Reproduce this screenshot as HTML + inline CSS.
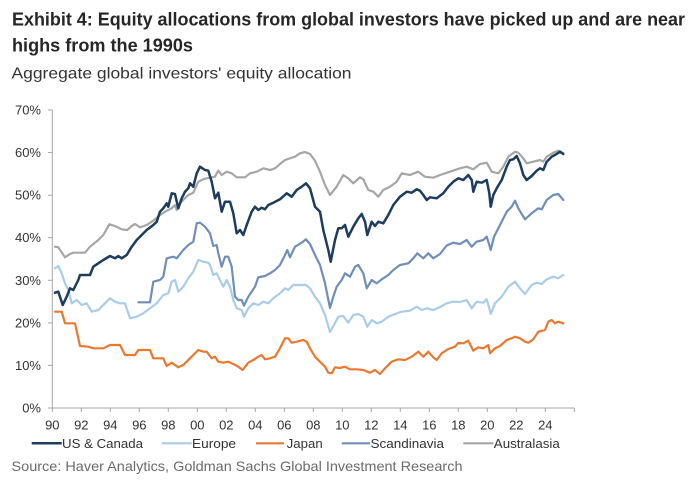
<!DOCTYPE html>
<html><head><meta charset="utf-8"><style>
html,body{margin:0;padding:0;background:#fff;}
svg{display:block;}
text{font-family:"Liberation Sans",Arial,sans-serif;}
</style></head><body>
<svg width="695" height="486" viewBox="0 0 695 486" xmlns="http://www.w3.org/2000/svg">
<rect width="695" height="486" fill="#fff"/>
<text x="12" y="25.7" font-size="18.5" font-weight="bold" fill="#262626" textLength="673" lengthAdjust="spacingAndGlyphs">Exhibit 4: Equity allocations from global investors have picked up and are near</text>
<text x="12" y="51.7" font-size="18.5" font-weight="bold" fill="#262626" textLength="181" lengthAdjust="spacingAndGlyphs">highs from the 1990s</text>
<text x="11.5" y="78.3" font-size="16" fill="#333" textLength="340" lengthAdjust="spacingAndGlyphs">Aggregate global investors' equity allocation</text>

<g stroke="#a6a6a6" stroke-width="1" fill="none">
<line x1="52.3" y1="110" x2="52.3" y2="408"/>
<line x1="52.3" y1="408" x2="574.3" y2="408"/>
<line x1="48" y1="110" x2="52.3" y2="110"/>
<line x1="48" y1="152.6" x2="52.3" y2="152.6"/>
<line x1="48" y1="195.2" x2="52.3" y2="195.2"/>
<line x1="48" y1="237.7" x2="52.3" y2="237.7"/>
<line x1="48" y1="280.3" x2="52.3" y2="280.3"/>
<line x1="48" y1="322.9" x2="52.3" y2="322.9"/>
<line x1="48" y1="365.4" x2="52.3" y2="365.4"/>
<line x1="48" y1="408" x2="52.3" y2="408"/>
<path d="M52.3 408v4M81.3 408v4M110.3 408v4M139.3 408v4M168.3 408v4M197.3 408v4M226.3 408v4M255.3 408v4M284.3 408v4M313.3 408v4M342.3 408v4M371.3 408v4M400.3 408v4M429.3 408v4M458.3 408v4M487.3 408v4M516.3 408v4M545.3 408v4M574.3 408v4"/>
</g>

<g font-size="13" fill="#333" text-anchor="end">
<text x="41" y="114.5">70%</text>
<text x="41" y="157.1">60%</text>
<text x="41" y="199.7">50%</text>
<text x="41" y="242.2">40%</text>
<text x="41" y="284.8">30%</text>
<text x="41" y="327.4">20%</text>
<text x="41" y="369.9">10%</text>
<text x="41" y="412.5">0%</text>
</g>
<g font-size="13" fill="#333" text-anchor="middle">
<text x="52.3" y="429.3">90</text>
<text x="81.3" y="429.3">92</text>
<text x="110.3" y="429.3">94</text>
<text x="139.3" y="429.3">96</text>
<text x="168.3" y="429.3">98</text>
<text x="197.3" y="429.3">00</text>
<text x="226.3" y="429.3">02</text>
<text x="255.3" y="429.3">04</text>
<text x="284.3" y="429.3">06</text>
<text x="313.3" y="429.3">08</text>
<text x="342.3" y="429.3">10</text>
<text x="371.3" y="429.3">12</text>
<text x="400.3" y="429.3">14</text>
<text x="429.3" y="429.3">16</text>
<text x="458.3" y="429.3">18</text>
<text x="487.3" y="429.3">20</text>
<text x="516.3" y="429.3">22</text>
<text x="545.3" y="429.3">24</text>
</g>

<g fill="none" stroke-linejoin="round" stroke-linecap="round">
<polyline stroke="#e8792f" stroke-width="2.2" points="55,311.7 61.7,311.7 65,323.3 75,323.3 80,346 88.3,346.7 93.3,348.3 103.3,348.3 110,345 120,345 125,355 135,355 138.3,350 150,350 153.3,358.3 163.3,358.3 166.7,366 171.7,362.7 178.3,367.3 183.3,365 190,358.3 198.3,350 203.3,351.7 206.7,351.7 211.7,358.3 215,356.7 218.3,361.7 223.3,362.7 228.3,361.7 233.3,364 238.3,366.7 242.7,370 248.3,362.7 253.3,360 258.3,356.7 261.7,355 265,359.3 270,358.3 275,356.7 280,348.3 285,338.3 288.3,338.3 291.7,342.7 296.7,341.7 303.3,340 306.7,341.7 310,348.3 315,356.7 320,361.7 325,366.7 328.3,372.7 331.7,373.3 335,367.3 340,368 345,366.7 350,369.3 356.7,369.3 363.3,370 370,372.7 375,370 380,374 385,368.3 391.7,361.7 398.3,359.3 405,360 411.7,356.7 418.3,351.7 423.3,356.7 428.3,351.7 433.3,357.3 436.7,360 441.7,353.3 448.3,349 455,346.7 458.3,343 463.3,343.3 468.3,340.7 473.3,350.7 478.3,347.3 483.3,348.3 488.3,345 490,353.3 495,348.3 500,346 506.7,340 511.7,338.3 515,336.7 520,338.3 525,341.7 528.3,342.7 533.3,339.3 538.3,331.7 545,330 548.3,321.7 551.7,320 555,323.3 558.3,321.7 563.3,323.3"/>
<polyline stroke="#a9cce8" stroke-width="2.2" points="55,268.3 58.3,266 61.7,273.3 65,283.3 68.3,290 71.7,303.3 76.7,300 81.7,305 86.7,303.3 91.7,311.7 98.3,310 105,303.3 110,298.3 115,301.7 120,303.3 125,303.3 130,318.3 136.7,316.7 143.3,313.3 150,308.3 156.7,303.3 163.3,295 168.3,293.3 171.7,281.7 175,280 178.3,291.7 183.3,286.7 188.3,278.3 193.3,271.7 198.3,260 203.3,261.7 208.3,262.7 210,265 213.3,275 216.7,273.3 220,280 223.3,286.7 226.7,280 230,286.7 233.3,300 236.7,308.3 241.7,310 244,316.7 248.3,308.3 253.3,303.3 258.3,305 263.3,301.7 268.3,303.3 273.3,298.3 280,293.3 285,288.3 288.3,290 293.3,285 300,285 306,285 310,288.3 315,296.7 320,303.3 325,315 330,332 335,323 338.3,316.7 343.3,316 348.3,322.7 353.3,315 358.3,314 363.3,316.7 367.3,326.7 371.7,320 376.7,323.3 381.7,321.7 388.3,316.7 395,314 401.7,311.7 410,310.7 416.7,306.7 421.7,310 426.7,308.3 433.3,310 440,307 446.7,303.3 453.3,301.7 460,302 466.7,300 471.7,308.3 476.7,301.7 483.3,302.7 486.7,299.3 489.3,308.3 490.7,314 495,303.3 501.7,296.7 508.3,286.7 515,281.7 520,288.3 525,294 531.7,285 536.7,282.7 541.7,284 546.7,279.3 553.3,276.7 558.3,278.3 563.3,275"/>
<polyline stroke="#6f8fb9" stroke-width="2.2" points="138.3,302.3 150,302.3 153.3,281.7 160,280 163.3,276.7 166.7,258.3 173.3,256.7 176.7,258.3 183.3,250 188.3,245 193.3,241.7 196.7,223.3 200,222.7 205,226.7 210,233.3 213.3,246 216.7,245 218.3,253.3 221.7,266.7 225,256.7 228.3,256.7 231.7,266.7 235,296.7 238.3,300 241.7,300 244,305.7 248.3,296.7 255,286.7 258.3,277.3 265,276 270,273.3 275,270 280,265 285,255 287.3,250 290,257.3 295,246.7 301.7,242.7 306,239.3 310,244 315,255 320,265 325,283.3 330,308 333.3,296.7 336.7,286.7 341.7,280 345,273.3 350,276.7 355,266.7 358.3,265 363.3,273.3 366.7,288.3 371.7,280 376.7,283.3 381.7,279.3 388.3,275 393.3,270 400,265 408.3,263.3 413.3,258.3 417.3,253.3 423.3,258.3 428.3,253.3 433.3,258.3 440,254 446.7,245.5 453.3,242.7 460,244 466.7,240 471.7,246.7 476.7,241.7 483.3,240 486.7,236.7 489.3,245 490.7,250 494,236.7 500,225 506.7,211.7 511.7,206.7 515,200.7 518.3,208.3 525,219.3 531.7,213.3 538.3,208.3 541.7,209.3 546.7,200 553.3,195 558.3,194 563.3,200"/>
<polyline stroke="#a6a6a6" stroke-width="2.2" points="55,246.7 58.3,247.3 65,257.3 70,254 73.3,252.7 85,252.7 90,246.7 98.3,240 103.3,235 109.3,224.3 115,226 121.7,229.3 127.3,230 131.7,226 135,224 140,227.3 146.7,225 151.7,221.7 155,219.3 160,215 166.7,210.7 171.7,208.3 175,205 176.7,210 180,203.3 183.3,200 188.3,195 193.3,192.7 198.3,181.7 203.3,179.3 206.7,178.3 215,176.7 218.3,170.7 221.7,175 226.7,171.7 231.7,173.3 236.7,177.3 245,177.3 250,173.3 256.7,171.7 263.3,168.3 270,170 275,168.3 280,164 285,160 290,158.3 295,156.7 300,153.3 305,152 310,154 315,160.7 320,171.7 325,185 330,195 336.7,186.7 343.3,175 348.3,178.3 353.3,183.3 360,177.3 363.3,179.3 368.3,190 373.3,191.7 378.3,196.7 383.3,190 390,186.7 396.7,181.7 401.7,173.3 410,175 418.3,171.7 425,176.7 433.3,177.7 440,175 450,171.7 460,168.3 466.7,166.7 473.3,169.3 480,164 486.7,162.7 491.7,171.7 498.3,173.3 503.3,166.7 508.3,156.7 515,151.7 518.3,152.7 523.3,158.3 526.7,163.3 533.3,161.7 540,160 543.3,161.7 546.7,156.7 553.3,152.7 558.3,150.7 563.3,153.3"/>
<polyline stroke="#1d3c5e" stroke-width="2.5" points="55,292.7 58.3,291.7 62.7,305 66.7,296.7 70,288.3 73.3,290 78.3,280 80,275 90,275 93.3,266.7 98.3,263.3 103.3,260 110,256 115,258.3 118.3,256 121.7,258.3 126.7,255 131.7,246.7 136.7,240 141.7,235 146.7,230 153.3,225 156.7,221.7 160,211.7 163.3,208.3 166.7,203.3 168.3,206.7 171.7,193.3 175,194 178.3,208.3 181.7,198.3 185,191.7 188.3,188.3 190,183.3 193.3,186.7 196.7,173.3 200,166.7 205,170 208.3,170.7 211.7,181.7 215,198.3 218.3,192.7 221.7,211.7 225,201.7 230,201.7 233.3,213.3 236.7,233.3 240,230 243.3,235 246.7,225 251.7,211.7 255,206.7 258.3,210 261.7,207.7 265,209.3 268.3,205 273.3,202.7 280,199.3 286.7,193.3 291.7,196.7 296.7,190 301.7,186.7 306,183.3 310,188.3 315,206.7 320,211.7 323.3,230 328.3,250 330.7,261.7 335,240 338.3,228.3 341.7,228.3 345,225 348.3,236.7 353.3,226.7 358.3,218.3 361.7,214 365,221.7 367.3,235 371.7,221.7 375,226 378.3,221.7 383.3,223.3 388.3,215 393.3,205 400,196.7 406.7,191.7 411.7,192.7 416.7,189.3 420,190.7 423.3,195 426.7,200 430,197.3 436.7,198.3 443.3,193.3 448.3,186.7 453.3,181.7 458.3,178.3 463.3,180 468.3,175 471.7,180 473.3,191.7 476.7,181.7 481.7,182.7 486.7,180 489.3,193.3 490.7,206.7 493.3,195 496.7,188.3 501.7,180 506.7,166.7 510,160 513.3,159.3 516.7,156 520,163.3 523.3,175 526.7,180 531.7,176 536.7,170.7 540,168.3 543.3,170 546.7,161.7 551.7,156.7 556.7,154 560,151.7 563.3,154"/>
</g>

<g stroke-width="2.2">
<line x1="31.7" y1="443.3" x2="61.7" y2="443.3" stroke="#1d3c5e" stroke-width="2.5"/>
<line x1="161.7" y1="443.3" x2="191.7" y2="443.3" stroke="#a9cce8"/>
<line x1="256" y1="443.3" x2="284" y2="443.3" stroke="#e8792f"/>
<line x1="341.7" y1="443.3" x2="370" y2="443.3" stroke="#6f8fb9"/>
<line x1="463.3" y1="443.3" x2="493.3" y2="443.3" stroke="#a6a6a6"/>
</g>
<g font-size="13" fill="#333">
<text x="62" y="447.8" textLength="81" lengthAdjust="spacingAndGlyphs">US &amp; Canada</text>
<text x="192" y="447.8" textLength="44" lengthAdjust="spacingAndGlyphs">Europe</text>
<text x="286.7" y="447.8" textLength="36" lengthAdjust="spacingAndGlyphs">Japan</text>
<text x="370.5" y="447.8" textLength="73.5" lengthAdjust="spacingAndGlyphs">Scandinavia</text>
<text x="493.8" y="447.8" textLength="66" lengthAdjust="spacingAndGlyphs">Australasia</text>
</g>

<text x="11.5" y="471" font-size="14" fill="#6b6b6b" textLength="451" lengthAdjust="spacingAndGlyphs">Source: Haver Analytics, Goldman Sachs Global Investment Research</text>
</svg>
</body></html>
